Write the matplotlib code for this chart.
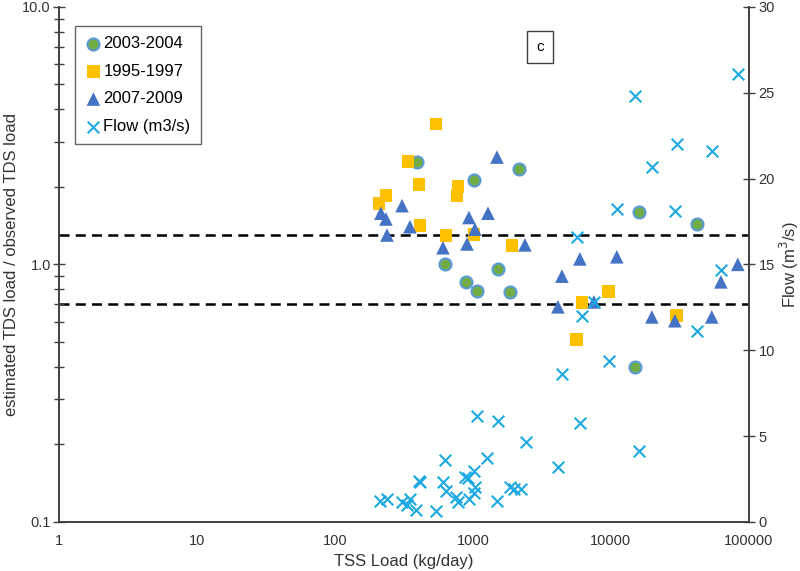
import matplotlib.pyplot as plt
from matplotlib.ticker import FixedLocator, NullFormatter, FixedFormatter

plt.rcParams['font.family'] = ['Liberation Sans', 'DejaVu Sans']

# 2003-2004 (ratio estimated/observed TDS load)
tss_0304 = [393, 2154, 1017, 627, 1518, 890, 1069, 1854, 15950, 42000, 14930]
ratio_0304 = [2.50, 2.35, 2.13, 1.00, 0.96, 0.855, 0.789, 0.782, 1.60, 1.44, 0.40]

# 1995-1997
tss_9597 = [540, 338, 406, 779, 765, 234, 208, 413, 1016, 637, 1918,
            6166, 9670, 5670, 30080]
ratio_9597 = [3.51, 2.50, 2.04, 2.00, 1.85, 1.85, 1.72, 1.42, 1.31, 1.29, 1.18,
              0.709, 0.782, 0.509, 0.631]

# 2007-2009
tss_0709 = [1493, 306, 215, 234, 1285, 935, 349, 1033, 238, 2381, 905, 606,
            4415, 5960, 11040, 4130, 7530, 19820, 29100, 53900, 62700, 83200]
ratio_0709 = [2.61, 1.69, 1.58, 1.50, 1.58, 1.52, 1.40, 1.37, 1.30, 1.19, 1.20, 1.16,
              0.90, 1.05, 1.07, 0.684, 0.715, 0.625, 0.604, 0.625, 0.855, 1.00]

# flow (m3/s) vs TSS load
tss_flow = [4415, 1069, 1518, 2420, 4130, 627, 1262, 406, 412, 1017, 875, 920,
            606, 637, 1033, 1010, 1854, 1982, 2228, 212, 238, 306, 349, 333,
            386, 753, 779, 935, 540, 1493, 14930, 83200, 30080, 53900, 19820,
            11040, 29100, 5670, 62700, 7530, 6170, 42000, 9670, 5960, 15950]
flow = [8.62, 6.17, 5.88, 4.66, 3.20, 3.61, 3.73, 2.39, 2.33, 2.97, 2.62, 2.56,
        2.33, 1.81, 2.04, 1.69, 2.04, 1.92, 1.92, 1.22, 1.34, 1.17, 1.34, 0.99,
        0.70, 1.46, 1.17, 1.34, 0.64, 1.22, 24.8, 26.1, 22.0, 21.6, 20.7,
        18.2, 18.1, 16.6, 14.7, 12.8, 12.0, 11.1, 9.4, 5.77, 4.14]

limits = [1.3, 0.7]

green = '#70AD47'
ring = '#5B9BD5'
gold = '#FFC000'
blue = '#4472C4'
cyan = '#1CA9E1'
axcol = '#404040'
txtcol = '#333333'

fig = plt.figure(figsize=(8, 5.71), dpi=100)
ax = fig.add_axes([0.074, 0.086, 0.862, 0.902])
ax2 = ax.twinx()

ax.set_xscale('log')
ax.set_yscale('log')
ax.set_xlim(1, 100000)
ax.set_ylim(0.1, 10)
ax2.set_ylim(0, 30)

for v in limits:
    ax.axhline(v, color='black', ls=(0, (4, 2.5)), lw=1.8, zorder=1)

h1 = ax.scatter(tss_0304, ratio_0304, marker='o', s=75, c=green, edgecolors=ring,
                linewidths=1.5, zorder=3, label='2003-2004')
h2 = ax.scatter(tss_9597, ratio_9597, marker='s', s=85, c=gold, edgecolors='none',
                zorder=3, label='1995-1997')
h3 = ax.scatter(tss_0709, ratio_0709, marker='^', s=95, c=blue, edgecolors='none',
                zorder=3, label='2007-2009')
h4 = ax2.scatter(tss_flow, flow, marker='x', s=70, c=cyan, linewidths=1.5,
                 zorder=3, label='Flow (m3/s)')

# left axis ticks
ax.yaxis.set_major_locator(FixedLocator([0.1, 1, 10]))
ax.yaxis.set_major_formatter(FixedFormatter(['0.1', '1.0', '10.0']))
ax.yaxis.set_minor_locator(FixedLocator([0.2, 0.3, 0.4, 0.5, 0.6, 0.7, 0.8, 0.9,
                                         2, 3, 4, 5, 6, 7, 8, 9]))
ax.yaxis.set_minor_formatter(NullFormatter())
ax.tick_params(axis='y', which='both', direction='inout', length=8, width=1,
               color=axcol, labelsize=10.5, labelcolor=txtcol, pad=2)
ax.tick_params(axis='y', which='minor', length=7)

ax.xaxis.set_major_locator(FixedLocator([1, 10, 100, 1000, 10000, 100000]))
ax.xaxis.set_major_formatter(FixedFormatter(['1', '10', '100', '1000', '10000', '100000']))
ax.xaxis.set_minor_locator(FixedLocator([]))
ax.tick_params(axis='x', which='both', length=0, pad=9, labelsize=10.5,
               labelcolor=txtcol)

ax2.set_yticks([0, 5, 10, 15, 20, 25, 30])
ax2.tick_params(axis='y', direction='inout', length=8, width=1, color=axcol,
                labelsize=10.5, labelcolor=txtcol, pad=3)

for a in (ax, ax2):
    a.spines['top'].set_visible(False)
    for s in ('left', 'right', 'bottom'):
        a.spines[s].set_color(axcol)
        a.spines[s].set_linewidth(1.2)

ax.set_xlabel('TSS Load (kg/day)', fontsize=12, color=txtcol, labelpad=4)
ax.set_ylabel('estimated TDS load / observed TDS load', fontsize=12,
              color=txtcol, labelpad=2)
ax2.set_ylabel('Flow (m$^3$/s)', fontsize=12, color=txtcol, labelpad=2)

ax2.text(0.697, 0.922, 'c', transform=ax.transAxes, ha='center', va='center',
         fontsize=11, bbox=dict(boxstyle='square,pad=0.6', fc='white',
                                ec=axcol, lw=1))

leg = ax2.legend(handles=[h1, h2, h3, h4], loc='upper left',
                 bbox_to_anchor=(0.023, 0.962), borderaxespad=0, fontsize=12,
                 frameon=True, fancybox=False, edgecolor=axcol,
                 handletextpad=0.1, handlelength=1.0, labelspacing=0.75,
                 borderpad=0.6, scatterpoints=1, markerscale=1.0)
leg.get_frame().set_linewidth(1)

fig.savefig('out.png', dpi=100)
